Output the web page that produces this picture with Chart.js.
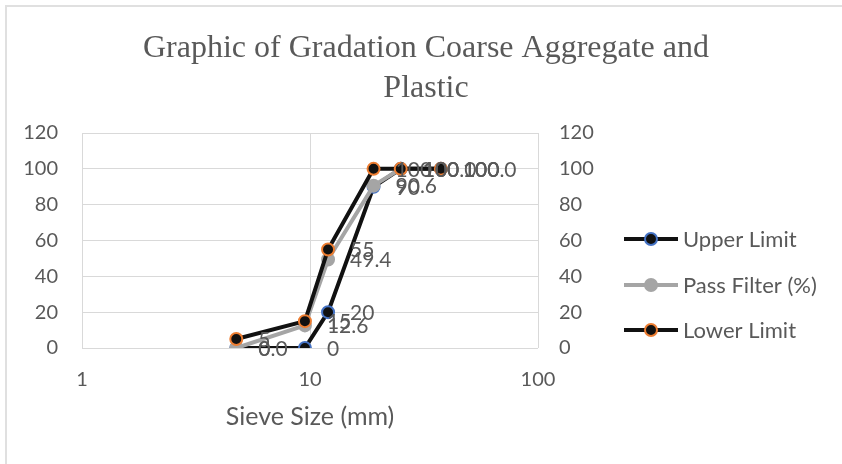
<!DOCTYPE html>
<html>
<head>
<meta charset="utf-8">
<script src="https://cdn.jsdelivr.net/npm/chart.js@4.4.1/dist/chart.umd.min.js"></script>
<style>
  html, body { margin: 0; padding: 0; background: #fff; }
  #wrap { position: relative; width: 842px; height: 464px; overflow: hidden; }
  #frame { position: absolute; left: 5px; top: 5px; width: 900px; height: 500px;
           border-left: 2px solid #e0e0e0; border-top: 2px solid #e0e0e0; }
  canvas { position: absolute; left: 0; top: 0; }
</style>
</head>
<body>
<div id="wrap">
  <div id="frame"></div>
  <canvas id="chart" width="842" height="464"></canvas>
</div>
<script>
// Sieve sizes (mm) and percentages
const sieveSizes = [4.75, 9.5, 12, 19, 25, 37.5];
const upperLimit = [0, 0, 20, 90, 100, 100];
const passFilter = [0.0, 12.6, 49.4, 90.6, 100.0, 100.0];
const lowerLimit = [5, 15, 55, 100, 100, 100];
const xTicks = [1, 10, 100];

const titleLines = ["Graphic of Gradation Coarse Aggregate and", "Plastic"];
const xTitle = "Sieve Size (mm)";

const textColor = "#595959";
const gridColor = "#d9d9d9";
const sans = "Lato";

const series = [
  { label: "Upper Limit", values: upperLimit, line: "#111111", fill: "#111111", edge: "#4472c4", decimals: 0, order: 3 },
  { label: "Pass Filter (%)", values: passFilter, line: "#a5a5a5", fill: "#a5a5a5", edge: "#a5a5a5", decimals: 1, order: 2 },
  { label: "Lower Limit", values: lowerLimit, line: "#111111", fill: "#111111", edge: "#ed7d31", decimals: 0, order: 1 }
];

const datasets = series.map(s => ({
  label: s.label,
  data: sieveSizes.map((x, i) => ({ x: x, y: s.values[i] })),
  borderColor: s.line,
  borderWidth: 4,
  pointRadius: 6,
  pointBorderWidth: 2,
  pointBackgroundColor: s.fill,
  pointBorderColor: s.edge,
  tension: 0,
  order: s.order,
  yAxisID: "y"
}));

// titles, data labels and legend drawn by hand
const extras = {
  id: "extras",
  afterDatasetsDraw(chart) {
    const ctx = chart.ctx;
    ctx.save();
    // data labels
    ctx.font = "21px " + sans;
    ctx.fillStyle = textColor;
    ctx.textAlign = "left";
    ctx.textBaseline = "middle";
    series.forEach((s, i) => {
      const meta = chart.getDatasetMeta(i);
      meta.data.forEach((pt, j) => {
        ctx.fillText(s.values[j].toFixed(s.decimals), pt.x + 22, pt.y + 1);
      });
    });

    // chart title
    ctx.font = "32px 'Liberation Serif'";
    ctx.textAlign = "center";
    ctx.textBaseline = "alphabetic";
    ctx.fillText(titleLines[0], 426, 57);
    ctx.fillText(titleLines[1], 426, 97);

    // x axis title
    const area = chart.chartArea;
    ctx.font = "25px " + sans;
    ctx.fillText(xTitle, (area.left + area.right) / 2, 425);

    // legend
    const rows = [239, 285, 330];
    series.forEach((s, i) => {
      const y = rows[i];
      ctx.strokeStyle = s.line;
      ctx.lineWidth = 4;
      ctx.beginPath();
      ctx.moveTo(624, y);
      ctx.lineTo(678, y);
      ctx.stroke();
      ctx.beginPath();
      ctx.arc(651, y, 6, 0, Math.PI * 2);
      ctx.fillStyle = s.fill;
      ctx.fill();
      ctx.lineWidth = 2;
      ctx.strokeStyle = s.edge;
      ctx.stroke();
      ctx.fillStyle = textColor;
      ctx.font = "22px " + sans;
      ctx.textAlign = "left";
      ctx.textBaseline = "middle";
      ctx.fillText(s.label, 683, y + 1);
    });
    ctx.restore();
  }
};

new Chart(document.getElementById("chart"), {
  type: "line",
  data: { datasets: datasets },
  options: {
    responsive: false,
    animation: false,
    devicePixelRatio: 1,
    layout: { padding: { left: 0, top: 133, right: 244, bottom: 0 } },
    plugins: {
      legend: { display: false },
      title: { display: false },
      tooltip: { enabled: false }
    },
    scales: {
      x: {
        type: "logarithmic",
        min: 1,
        max: 100,
        afterBuildTicks: scale => { scale.ticks = xTicks.map(v => ({ value: v })); },
        afterFit: scale => { scale.height = 116; },
        ticks: {
          color: textColor,
          font: { family: sans, size: 20 },
          padding: 20,
          callback: v => String(v)
        },
        grid: { color: gridColor, lineWidth: 1, drawTicks: false },
        border: { display: false }
      },
      y: {
        position: "left",
        min: 0,
        max: 120,
        afterFit: scale => { scale.width = 82; },
        ticks: { stepSize: 20, color: textColor, font: { family: sans, size: 20 }, padding: 24 },
        grid: { color: gridColor, lineWidth: 1, drawTicks: false },
        border: { display: false }
      },
      y2: {
        position: "right",
        min: 0,
        max: 120,
        afterFit: scale => { scale.width = 60; },
        ticks: { stepSize: 20, color: textColor, font: { family: sans, size: 20 }, padding: 21 },
        grid: { display: false, drawTicks: false },
        border: { display: false }
      }
    }
  },
  plugins: [extras]
});
</script>
</body>
</html>
